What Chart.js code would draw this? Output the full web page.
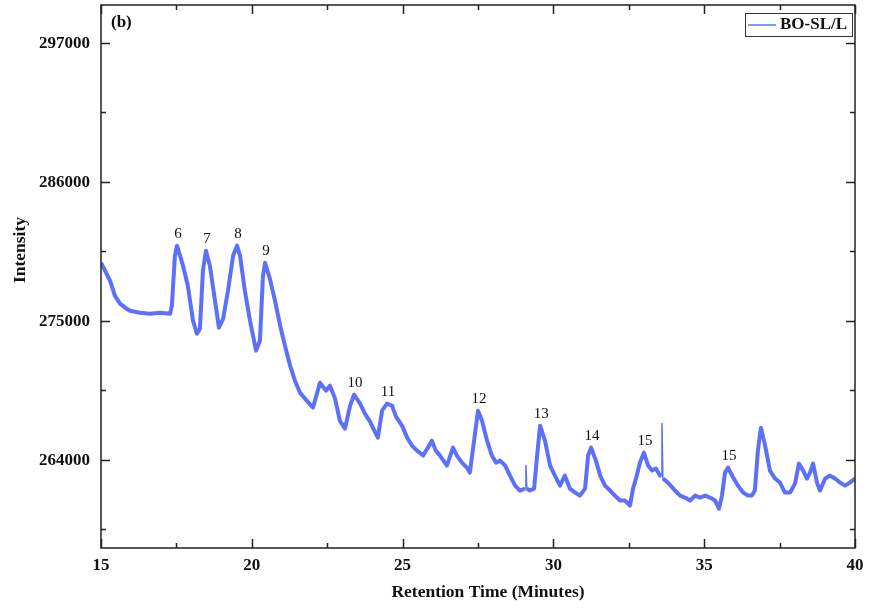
<!DOCTYPE html>
<html>
<head>
<meta charset="utf-8">
<script src="https://cdn.jsdelivr.net/npm/chart.js@4"></script>
<style>
  body { margin: 0; background: #fff; }
  #wrap { width: 869px; height: 609px; }
</style>
</head>
<body>
<div id="wrap"><canvas id="chart" width="869" height="609"></canvas></div>
<script>
// retention time (minutes)
var timeMin = [
  15.00, 15.30, 15.46, 15.63, 15.80, 15.96, 16.29, 16.62, 16.96, 17.29,
  17.35, 17.45, 17.52, 17.72, 17.88, 18.05, 18.18, 18.28, 18.38, 18.48,
  18.61, 18.78, 18.91, 19.05, 19.21, 19.38, 19.51, 19.61, 19.77, 19.94,
  20.14, 20.27, 20.37, 20.44, 20.60, 20.77, 20.94, 21.10, 21.27, 21.43,
  21.60, 21.76, 22.03, 22.26, 22.46, 22.59, 22.76, 22.92, 23.09, 23.26,
  23.39, 23.59, 23.75, 23.92, 24.08, 24.18, 24.32, 24.48, 24.65, 24.78,
  24.98, 25.15, 25.31, 25.48, 25.68, 25.84, 25.97, 26.10, 26.24, 26.47,
  26.67, 26.80, 26.97, 27.13, 27.23, 27.37, 27.50, 27.63, 27.80, 27.96,
  28.10, 28.23, 28.40, 28.56, 28.73, 28.89, 29.06, 29.09, 29.12, 29.22,
  29.36, 29.46, 29.56, 29.72, 29.89, 30.05, 30.22, 30.38, 30.55, 30.72,
  30.88, 31.05, 31.15, 31.25, 31.41, 31.55, 31.71, 31.88, 32.04, 32.21,
  32.37, 32.54, 32.64, 32.74, 32.87, 33.00, 33.14, 33.27, 33.40, 33.53,
  33.57, 33.60, 33.63, 33.80, 34.03, 34.20, 34.36, 34.53, 34.70, 34.86,
  35.03, 35.19, 35.36, 35.49, 35.59, 35.69, 35.79, 35.96, 36.12, 36.29,
  36.45, 36.58, 36.68, 36.78, 36.88, 37.02, 37.18, 37.35, 37.51, 37.68,
  37.85, 38.01, 38.14, 38.28, 38.41, 38.51, 38.61, 38.74, 38.84, 39.01,
  39.17, 39.34, 39.50, 39.67, 39.83, 40.00
];
// intensity (BO-SL/L)
var intensity = [
  279590, 278170, 276980, 276350, 276030, 275790, 275630, 275550, 275630, 275550,
  276190, 280140, 280940, 279350, 277770, 275000, 273970, 274370, 278960, 280540,
  279350, 276580, 274450, 275160, 277370, 280140, 280940, 280140, 277370, 275000,
  272630, 273420, 278560, 279590, 278320, 276580, 274600, 273020, 271440, 270250,
  269300, 268830, 268120, 270090, 269460, 269860, 268830, 267090, 266450, 268270,
  269140, 268430, 267640, 267010, 266210, 265740, 267880, 268430, 268270, 267400,
  266690, 265740, 265110, 264710, 264320, 264950, 265500, 264710, 264320, 263530,
  264950, 264320, 263760, 263370, 262970, 265500, 267880, 267090, 265500, 264320,
  263760, 263920, 263530, 262730, 261940, 261550, 261700, 263530, 261700, 261550,
  261700, 264320, 266690, 265500, 263530, 262730, 261940, 262730, 261700, 261390,
  261150, 261700, 264320, 264950, 263920, 262730, 261940, 261550, 261150, 260760,
  260760, 260360, 261700, 262500, 263760, 264550, 263530, 263130, 263290, 262730,
  262730, 266850, 262500, 262180, 261550, 261150, 260990, 260760, 261150, 260990,
  261150, 260990, 260760, 260120, 261150, 262970, 263370, 262580, 261940, 261390,
  261150, 261150, 261550, 264710, 266530, 265110, 263130, 262500, 262180, 261390,
  261390, 262100, 263680, 263130, 262500, 262970, 263680, 262180, 261550, 262500,
  262730, 262500, 262180, 261940, 262180, 262500
];

var peakLabels = ['6', '7', '8', '9', '10', '11', '12', '13', '14', '15', '15'];
var peakTimes = [17.52, 18.48, 19.51, 20.44, 23.39, 24.48, 27.50, 29.56, 31.25, 33.00, 35.79];
// single-sample spikes, drawn thin
var spikeTimes = [29.09, 33.60];

var xTicks = [15, 20, 25, 30, 35, 40];
var yTicks = [264000, 275000, 286000, 297000];
var yMinorTicks = [258500, 269500, 280500, 291500];
var xMinorTicks = [17.5, 22.5, 27.5, 32.5, 37.5];

var lineColor = 'rgb(92,112,250)';
var serif = '"Liberation Serif", "Times New Roman", serif';

function peakValue(t) {
  var best = 0, bd = 1e9;
  for (var i = 0; i < timeMin.length; i++) {
    var d = Math.abs(timeMin[i] - t);
    if (d < bd) { bd = d; best = i; }
  }
  return intensity[best];
}

function isSpike(t) {
  return spikeTimes.some(function(s) { return Math.abs(s - t) < 0.001; });
}

var overlay = {
  id: 'overlay',
  afterDraw: function(chart) {
    var ctx = chart.ctx, a = chart.chartArea;
    var x = chart.scales.x, y = chart.scales.y;
    ctx.save();
    ctx.strokeStyle = '#222';
    ctx.lineWidth = 1.5;
    ctx.strokeRect(a.left, a.top, a.right - a.left, a.bottom - a.top);

    // inward ticks on all four sides
    function tickX(v, len) {
      var px = Math.round(x.getPixelForValue(v)) + 0.5;
      ctx.beginPath();
      ctx.moveTo(px, a.bottom); ctx.lineTo(px, a.bottom - len);
      ctx.moveTo(px, a.top); ctx.lineTo(px, a.top + len);
      ctx.stroke();
    }
    function tickY(v, len) {
      var py = Math.round(y.getPixelForValue(v)) + 0.5;
      ctx.beginPath();
      ctx.moveTo(a.left, py); ctx.lineTo(a.left + len, py);
      ctx.moveTo(a.right, py); ctx.lineTo(a.right - len, py);
      ctx.stroke();
    }
    xTicks.forEach(function(v) { tickX(v, 9); });
    xMinorTicks.forEach(function(v) { tickX(v, 5); });
    yTicks.forEach(function(v) { tickY(v, 9); });
    yMinorTicks.forEach(function(v) { tickY(v, 5); });

    // tick labels
    ctx.fillStyle = '#111';
    ctx.font = 'bold 17px ' + serif;
    ctx.textAlign = 'center';
    ctx.textBaseline = 'middle';
    xTicks.forEach(function(v) { ctx.fillText(String(v), x.getPixelForValue(v), 566); });
    ctx.textAlign = 'right';
    yTicks.forEach(function(v) { ctx.fillText(String(v), 90, y.getPixelForValue(v) + 1); });

    // axis titles
    ctx.font = 'bold 17.5px ' + serif;
    ctx.textAlign = 'center';
    ctx.fillText('Retention Time (Minutes)', 488, 592);
    ctx.save();
    ctx.translate(20, 250);
    ctx.rotate(-Math.PI / 2);
    ctx.fillText('Intensity', 0, 0);
    ctx.restore();

    // panel tag
    ctx.font = 'bold 17px ' + serif;
    ctx.textAlign = 'left';
    ctx.fillText('(b)', 111, 23);

    // peak numbers
    ctx.font = '15px ' + serif;
    ctx.textAlign = 'center';
    ctx.textBaseline = 'alphabetic';
    for (var i = 0; i < peakLabels.length; i++) {
      var px = x.getPixelForValue(peakTimes[i]);
      var py = y.getPixelForValue(peakValue(peakTimes[i]));
      ctx.fillText(peakLabels[i], px + 1, py - 8);
    }

    // legend box
    ctx.strokeStyle = '#333';
    ctx.lineWidth = 1;
    ctx.strokeRect(745.5, 13.5, 107, 23);
    ctx.strokeStyle = lineColor;
    ctx.lineWidth = 1.5;
    ctx.beginPath();
    ctx.moveTo(748, 25); ctx.lineTo(776, 25);
    ctx.stroke();
    ctx.font = 'bold 17px ' + serif;
    ctx.textAlign = 'left';
    ctx.textBaseline = 'middle';
    ctx.fillStyle = '#111';
    ctx.fillText('BO-SL/L', 780, 25);
    ctx.restore();
  }
};

var points = timeMin.map(function(t, i) { return { x: t, y: intensity[i] }; });

new Chart(document.getElementById('chart'), {
  type: 'line',
  data: {
    datasets: [{
      label: 'BO-SL/L',
      data: points,
      borderColor: lineColor,
      borderWidth: 4,
      pointRadius: 0,
      tension: 0,
      borderJoinStyle: 'round',
      segment: {
        borderWidth: function(c) {
          return (isSpike(c.p0.parsed.x) || isSpike(c.p1.parsed.x)) ? 1.5 : undefined;
        }
      }
    }]
  },
  options: {
    responsive: false,
    animation: false,
    layout: { padding: { top: 5, right: 14, left: 0, bottom: 0 } },
    plugins: { legend: { display: false }, tooltip: { enabled: false } },
    scales: {
      x: {
        type: 'linear',
        min: 15, max: 40,
        grid: { display: false, drawTicks: false },
        border: { display: false },
        afterFit: function(s) { s.height = 61; },
        ticks: { display: false }
      },
      y: {
        min: 257000, max: 300000,
        grid: { display: false, drawTicks: false },
        border: { display: false },
        afterFit: function(s) { s.width = 101; },
        ticks: { display: false }
      }
    }
  },
  plugins: [overlay]
});
</script>
</body>
</html>
